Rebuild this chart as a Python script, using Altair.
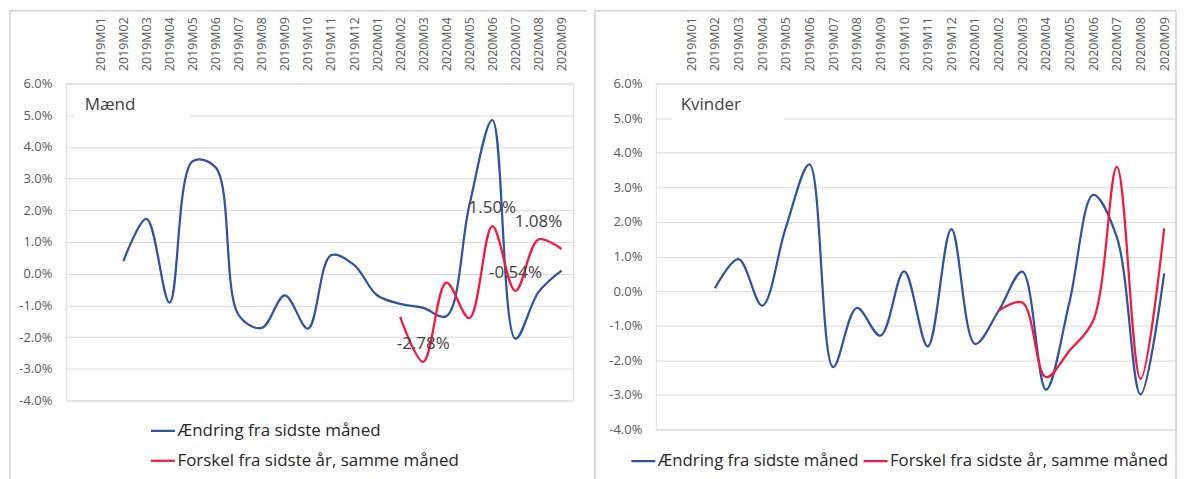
import altair as alt
import pandas as pd

months = ["2019M01", "2019M02", "2019M03", "2019M04", "2019M05", "2019M06", "2019M07",
          "2019M08", "2019M09", "2019M10", "2019M11", "2019M12", "2020M01", "2020M02",
          "2020M03", "2020M04", "2020M05", "2020M06", "2020M07", "2020M08", "2020M09"]
x_domain = [" "] + months

series_change = "Ændring fra sidste måned"
series_diff = "Forskel fra sidste år, samme måned"

# values in percent
maend_change = [None, 0.40, 1.73, -0.91, 3.55, 3.35, -1.31, -1.71, -0.68, -1.73, 0.58,
                0.28, -0.68, -0.95, -1.08, -1.34, 2.15, 4.85, -2.05, -0.58, 0.10]
maend_diff = [None] * 13 + [-1.36, -2.78, -0.28, -1.40, 1.50, -0.54, 1.08, 0.78]
kvinder_change = [None, 0.08, 0.92, -0.42, 1.84, 3.66, -2.20, -0.49, -1.29, 0.57, -1.60,
                  1.79, -1.53, -0.57, 0.56, -2.85, -0.30, 2.78, 1.55, -2.99, 0.51]
kvinder_diff = [None] * 13 + [-0.57, -0.33, -2.49, -1.72, -0.85, 3.59, -2.54, 1.81]
maend_labeled = ["2020M03", "2020M06", "2020M07", "2020M08"]
y_ticks = [-0.04, -0.03, -0.02, -0.01, 0.0, 0.01, 0.02, 0.03, 0.04, 0.05, 0.06]

BLUE = "#2E54A1"
RED = "#F7183F"
GRID = "#d9d9d9"
BORDER = "#d0d0d0"
FONT = "Open Sans"


def frame(change, diff):
    rows = []
    for m, v in zip(months, change):
        if v is not None:
            rows.append({"month": m, "series": series_change, "value": v / 100})
    for m, v in zip(months, diff):
        if v is not None:
            rows.append({"month": m, "series": series_diff, "value": v / 100})
    return pd.DataFrame(rows)


MINUS = "\u2212"
x_enc = alt.X("month:N", sort=None,
              scale=alt.Scale(type="point", domain=x_domain, padding=0.5),
              axis=alt.Axis(orient="top", labelAngle=270, labelAlign="left",
                            labelBaseline="middle", labelPadding=13, ticks=False,
                            domain=False, grid=False, labelFontSize=12.5,
                            labelColor="#595959", title=None, labelOverlap=False,
                            labelFont=FONT))
y_enc = alt.Y("value:Q",
              scale=alt.Scale(domain=[-0.04, 0.06], nice=False, zero=False),
              axis=alt.Axis(values=y_ticks,
                            labelExpr="replace(format(datum.value, '.1%'), '" + MINUS + "', '-')",
                            grid=True, gridColor=GRID, gridWidth=1, ticks=False,
                            domain=False, labelPadding=14, labelFontSize=13,
                            labelColor="#595959", title=None, labelFont=FONT))


def panel(df, title, w, h, legend, box, title_x, border, labels_df=None):
    one = pd.DataFrame({"label": [title]})
    bl, br, bt, bb = border
    layers = [
        alt.Chart(one).mark_rule(color=BORDER, strokeWidth=1.5).encode(
            x=alt.value(bl), y=alt.value(bt), y2=alt.value(bb)),
        alt.Chart(one).mark_rule(color=BORDER, strokeWidth=1.5).encode(
            x=alt.value(bl), x2=alt.value(br), y=alt.value(bt)),
    ]
    if br < w + 10:
        layers.append(alt.Chart(one).mark_rule(color=BORDER, strokeWidth=1.5).encode(
            x=alt.value(br), y=alt.value(bt), y2=alt.value(bb)))
    layers.append(alt.Chart(one).mark_rect(fill="white").encode(
        x=alt.value(box[0]), x2=alt.value(box[1]), y=alt.value(12), y2=alt.value(44)))
    layers.append(alt.Chart(one).mark_text(align="left", baseline="alphabetic", fontSize=17,
                                           color="#404040", font=FONT).encode(
        x=alt.value(title_x), y=alt.value(27), text="label:N"))
    layers.append(alt.Chart(df).mark_line(interpolate="catmull-rom", strokeWidth=2.25).encode(
        x=x_enc, y=y_enc,
        color=alt.Color("series:N",
                        scale=alt.Scale(domain=[series_change, series_diff], range=[BLUE, RED]),
                        legend=legend)))
    if labels_df is not None:
        layers.append(alt.Chart(labels_df).mark_text(fontSize=17, dy=-18, color="#404040",
                                                     font=FONT).encode(
            x=x_enc, y=y_enc, text="label:N"))
    return alt.layer(*layers).properties(width=w, height=h)


df_m = frame(maend_change, maend_diff)
df_k = frame(kvinder_change, kvinder_diff)

lab = df_m[(df_m["series"] == series_diff) & (df_m["month"].isin(maend_labeled))].copy()
lab["label"] = [f"{v * 100:.2f}%" for v in lab["value"]]

legend_m = alt.Legend(title=None, orient="none", legendX=84, legendY=335, direction="vertical",
                      symbolType="stroke", symbolSize=576, symbolStrokeWidth=2.25,
                      labelFontSize=17, labelColor="#262626", labelOffset=1, rowPadding=8,
                      padding=0, labelFont=FONT, labelLimit=0)
legend_k = alt.Legend(title=None, orient="none", legendX=-26, legendY=365,
                      direction="horizontal", symbolType="stroke", symbolSize=576,
                      symbolStrokeWidth=2.25, labelFontSize=16.8, labelColor="#262626",
                      labelOffset=1, columnPadding=0, padding=0, labelFont=FONT,
                      labelLimit=0)

left = panel(df_m, "Mænd", 509, 318, legend_m, (9, 124), 19, (-56, 523, -73, 398), lab)
right = panel(df_k, "Kvinder", 522, 347, legend_k, (16, 129), 25, (-61, 522, -73, 398))

chart = alt.hconcat(left, right, spacing=83, bounds="flush").resolve_legend(
    color="independent").properties(padding=0).configure_view(
    stroke="transparent").configure(font=FONT)

chart.save("out.html", embed_options={"renderer": "svg", "actions": False})
